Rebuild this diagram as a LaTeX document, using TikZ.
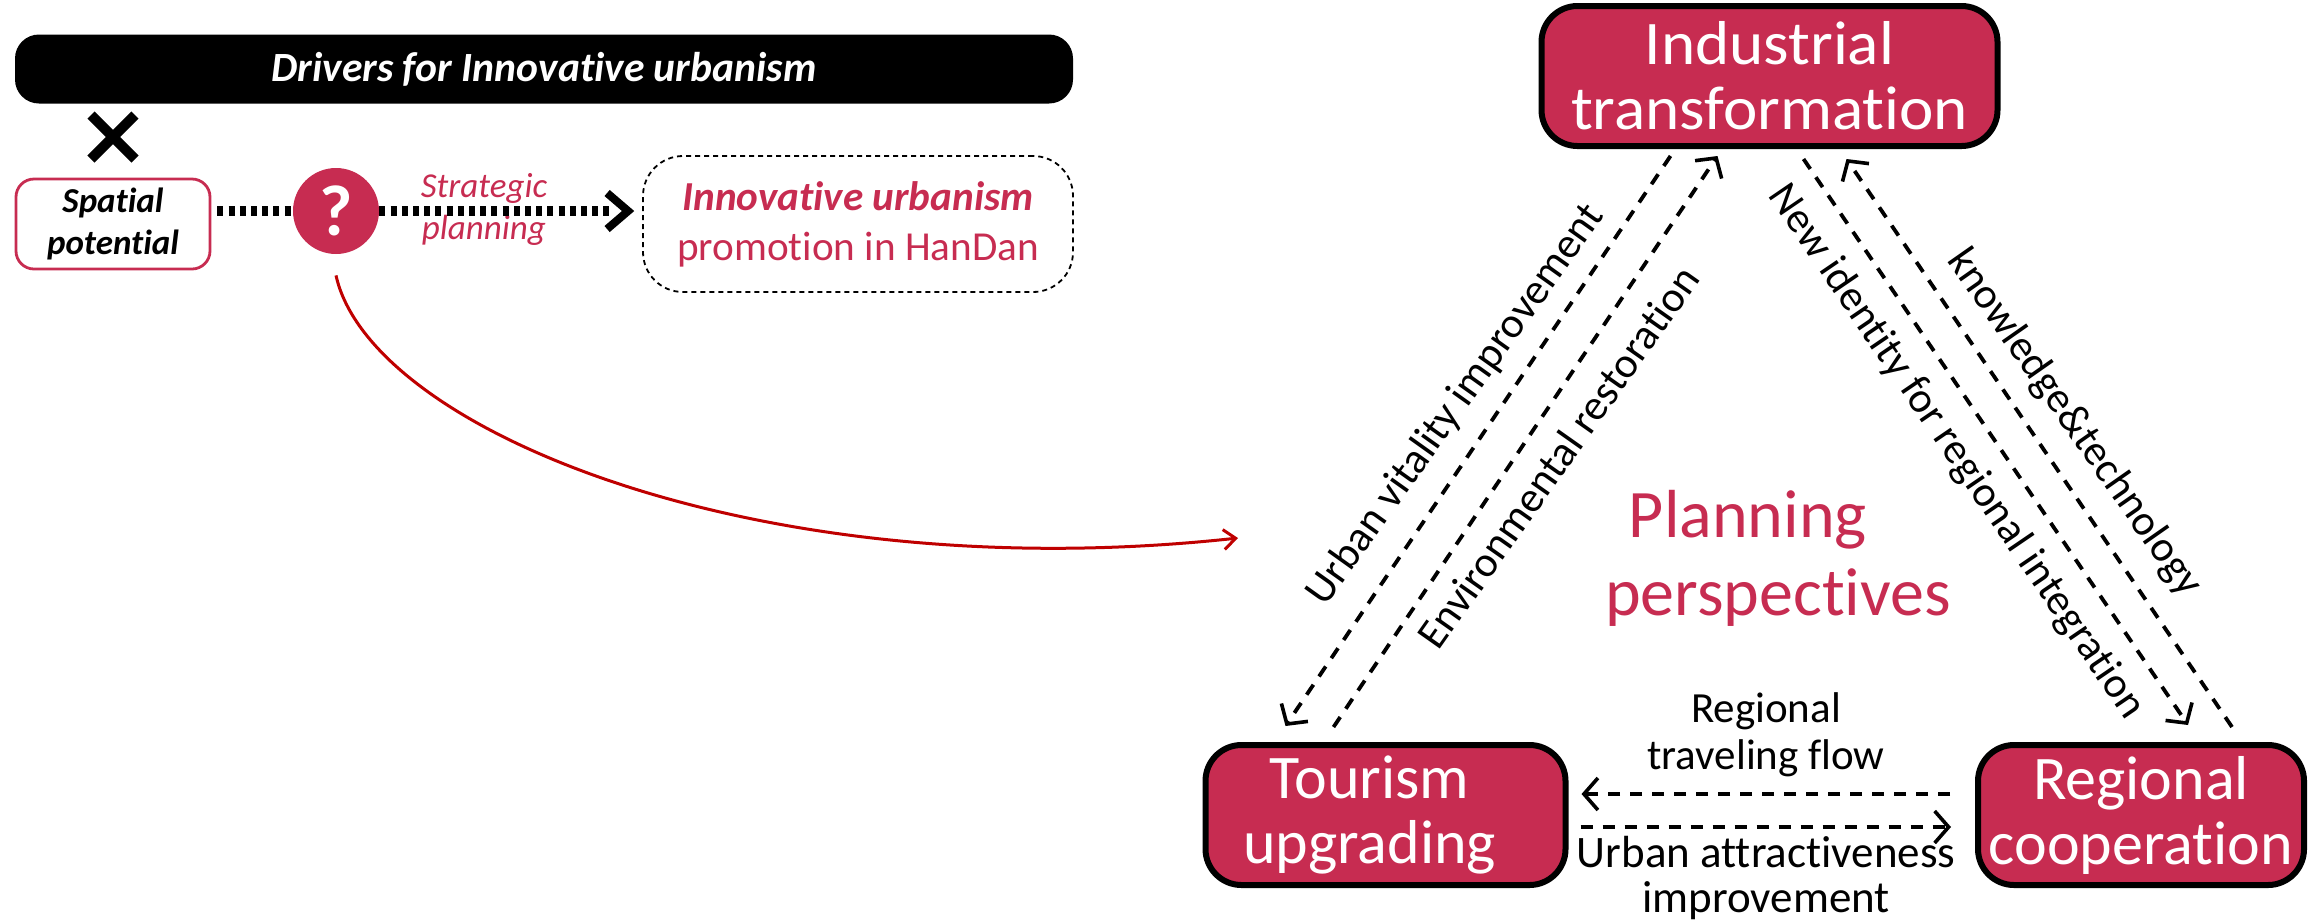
\documentclass[tikz,border=0pt]{standalone}
\usepackage{fontspec}
\usetikzlibrary{arrows.meta, shapes.misc}
\setmainfont[Ligatures=NoCommon]{Carlito}
\newfontfamily\widefont[Ligatures=NoCommon, FakeStretch=1.05]{Carlito}
\definecolor{crimson}{HTML}{C72C51}
\tikzset{
    bigbox/.style={draw=black, line width=3pt, fill=crimson, rounded corners=18pt, text=white, align=center,
        font=\fontsize{31}{32.5}\selectfont, inner sep=0pt},
    smalltext/.style={align=center, font=\fontsize{21.5}{23.5}\selectfont},
    sidetext/.style={font=\fontsize{21.5}{23.5}\selectfont},
    titletext/.style={text=crimson, inner sep=0pt, font=\fontsize{34}{39}\selectfont},
    dashline/.style={line width=1.9pt, dash pattern=on 6pt off 5pt, -{Straight Barb[length=7pt, width=16pt, line width=1.8pt]}},
    dotline/.style={line width=5pt, dash pattern=on 3pt off 2.6pt},
}

\begin{document}
\begin{tikzpicture}[x=0.5pt, y=-0.5pt]
    \useasboundingbox (0, 0) rectangle (2311, 923);

    % left part
    \node [fill=black, rounded corners=12pt, minimum width=529pt, minimum height=34.5pt, inner sep=0pt, text=white,
        font=\fontsize{20.8}{22}\selectfont\bfseries\itshape] (drivers) at (544, 69) {Drivers for Innovative urbanism};
    \node [cross out, draw=black, line width=5pt, minimum size=17pt, inner sep=0pt] (cross) at (113, 137) {};

    \node [draw=crimson, line width=1.4pt, rounded corners=9pt, minimum width=97pt, minimum height=45pt, inner sep=0pt,
        align=center, font=\fontsize{17.5}{21}\selectfont\bfseries\itshape] (spatial) at (113, 224) {Spatial\\potential};
    \node [circle, fill=crimson, minimum size=43pt, inner sep=0pt, text=white,
        font=\fontsize{36}{36}\selectfont\bfseries] (question) at (336, 211) {?};
    \node [draw=black, line width=0.9pt, dash pattern=on 2.5pt off 2pt, rounded corners=20pt, minimum width=215pt,
        minimum height=68pt, inner sep=0pt, align=center, text=crimson, font=\fontsize{20.6}{25}\selectfont] (promotion) at (858, 224)
        {\textbf{\textit{Innovative urbanism}}\\promotion in HanDan};
    \node [text=crimson, align=center, font=\fontsize{17.5}{21}\selectfont\itshape, inner sep=0pt] (strategic) at (484, 209) {Strategic\\planning};

    \draw [dotline] ([shift={(6, 0)}]spatial.east |- question.west) -- (question.west);
    \draw [dotline] (question.east) -- ([shift={(-30, 0)}]promotion.west |- question.east);
    \draw [line width=4pt] ([shift={(-35, -31)}]promotion.west) -- ([shift={(-14, -13)}]promotion.west) -- ([shift={(-35, 5)}]promotion.west);

    \coordinate (curveend) at (1238, 538);
    \draw [color=red!75!black, line width=1.5pt, -{Straight Barb[length=6pt, width=10pt]}]
        ([shift={(0, 21)}]question.south) .. controls (370, 430) and (760, 590) .. (curveend);

    % right part
    \node [bigbox, minimum width=228pt, minimum height=70pt, font=\fontsize{31}{32.5}\widefont] (industrial) at (1769.5, 76) {Industrial\\transformation};
    \node [bigbox, minimum width=180pt, minimum height=70pt] (tourism) at (1385.5, 815) {\hspace*{-16pt}Tourism\\\hspace*{-16pt}upgrading};
    \node [bigbox, minimum width=163pt, minimum height=70pt] (regional) at (2141, 815) {Regional\\cooperation};

    \node [titletext] (planning) at (1748, 520) {Planning};
    \node [titletext] (perspectives) at (1778, 598) {perspectives};

    \draw [dashline] ([shift={(-99, 7)}]industrial.south) -- ([shift={(-100, -16)}]tourism.north);
    \draw [dashline] ([shift={(-52, -15)}]tourism.north) -- ([shift={(-52, 7)}]industrial.south);
    \draw [dashline] ([shift={(34, 10)}]industrial.south) -- ([shift={(47, -17)}]regional.north);
    \draw [dashline] ([shift={(91, -15)}]regional.north) -- ([shift={(77, 10)}]industrial.south);
    \draw [dashline] ([shift={(-25, -21)}]regional.west) -- ([shift={(13, -21)}]tourism.east);
    \draw [dashline] ([shift={(12, 12)}]tourism.east) -- ([shift={(-24, 12)}]regional.west);

    \node [sidetext, rotate=54.5] (vitality) at (1456, 405) {Urban vitality improvement};
    \node [sidetext, rotate=54.8] (restoration) at (1558, 457) {Environmental restoration};
    \node [sidetext, rotate=-55.7] (identity) at (1956, 452) {New identity for regional integration};
    \node [sidetext, rotate=-55] (knowledge) at (2074, 423) {knowledge\&technology};
    \node [smalltext] (flow) at (1766, 735) {Regional\\traveling flow};
    \node [smalltext, font=\fontsize{22.5}{22.5}\selectfont] (attract) at (1766, 878) {Urban attractiveness\\improvement};
\end{tikzpicture}
\end{document}
